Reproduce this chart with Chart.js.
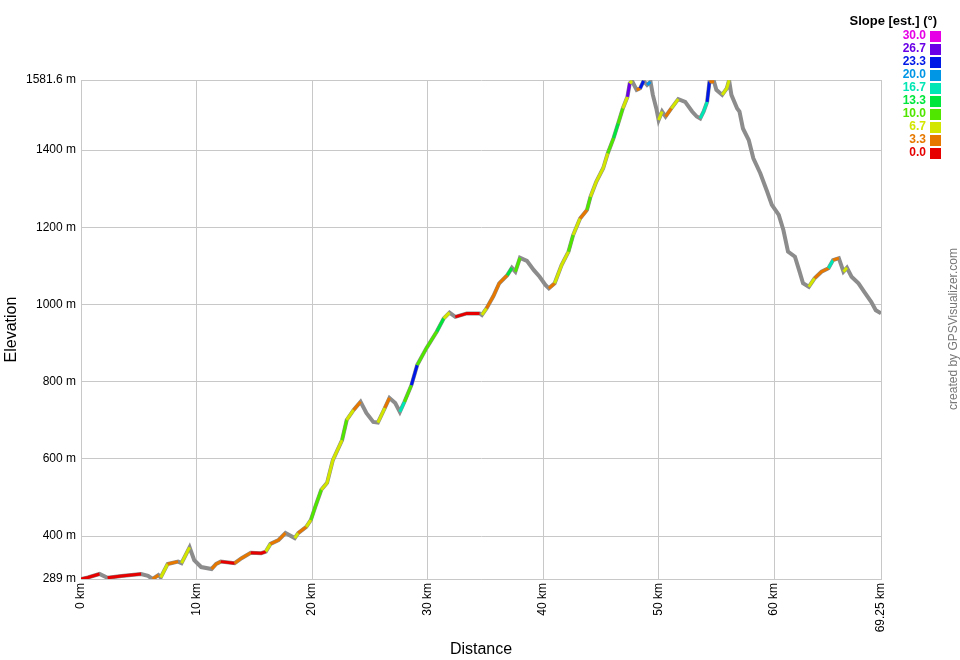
<!DOCTYPE html>
<html>
<head>
<meta charset="utf-8">
<script src="https://cdn.jsdelivr.net/npm/chart.js@4"></script>
<style>
  html, body { margin: 0; padding: 0; background: #fff; }
  #wrap { width: 960px; height: 660px; position: relative; }
</style>
</head>
<body>
<div id="wrap"><canvas id="perfil" width="960" height="660"></canvas></div>
<script>
const distancias = [0, 0.6, 1.6, 2.3, 3.5, 5.2, 5.8, 6.2, 6.7, 6.9, 7.5, 8.4, 8.7, 9.4, 9.8, 10.4, 11.3, 11.7, 12.1, 13.3,
  13.9, 14.7, 15.6, 16.0, 16.4, 17.1, 17.7, 18.5, 18.8, 19.5, 19.9, 20.3, 20.8, 21.3, 21.8, 22.6, 23.0, 23.6, 24.2, 24.7,
  25.3, 25.7, 26.3, 26.7, 27.2, 27.6, 28.0, 28.6, 29.1, 29.9, 30.8, 31.4, 31.9, 32.4, 33.4, 34.5, 34.7, 35.1, 35.7, 36.2,
  36.9, 37.3, 37.6, 38.0, 38.6, 39.2, 39.7, 40.2, 40.5, 41.0, 41.6, 42.2, 42.6, 43.2, 43.8, 44.1, 44.6, 45.2, 45.6, 46.1,
  46.5, 46.9, 47.3, 47.5, 47.7, 48.1, 48.4, 48.7, 49.0, 49.3, 49.5, 49.8, 50.0, 50.3, 50.6, 51.1, 51.7, 52.3, 52.9, 53.3,
  53.6, 53.9, 54.2, 54.4, 54.8, 55.0, 55.5, 55.9, 56.1, 56.3, 56.8, 57.0, 57.3, 57.8, 58.2, 58.8, 59.4, 59.8, 60.4, 60.8,
  61.2, 61.8, 62.2, 62.5, 63.0, 63.5, 64.1, 64.7, 65.1, 65.6, 66.0, 66.3, 66.7, 67.3, 67.8, 68.4, 68.8, 69.25];

const elevacoes = [289, 293, 302, 292, 297, 302, 297, 289, 299, 293, 328, 334, 330, 371, 338, 320, 315, 328, 334, 330,
  343, 357, 356, 360, 380, 390, 408, 395, 408, 424, 442, 478, 520, 538, 597, 649, 701, 727, 748, 719,
  696, 694, 732, 758, 745, 722, 748, 791, 843, 887, 930, 964, 979, 968, 977, 977, 973, 990, 1022, 1055,
  1076, 1095, 1085, 1121, 1113, 1089, 1072, 1051, 1042, 1055, 1102, 1137, 1180, 1223, 1245, 1279, 1318, 1353, 1392, 1431,
  1469, 1508, 1538, 1573, 1579, 1556, 1560, 1579, 1569, 1577, 1543, 1508, 1478, 1500, 1487, 1508, 1532, 1525, 1500, 1487,
  1482, 1500, 1525, 1577, 1577, 1556, 1543, 1560, 1581, 1543, 1508, 1500, 1456, 1426, 1379, 1340, 1292, 1258, 1232, 1193,
  1137, 1124, 1085, 1055, 1046, 1068, 1085, 1094, 1115, 1120, 1085, 1095, 1072, 1055, 1033, 1007, 985, 977];

// Inclinacao estimada (graus) do trecho que termina em cada ponto; -1 = descida (cinza)
const inclinacoes = [0, 1, 1, -1, 1, 1, -1, -1, 4, -1, 6, 2, -1, 7, -1, -1, -1, 2, 2, 1,
  2, 2, 1, 1, 8, 4, 4, -1, 5, 3, 6, 10, 9, 7, 7, 7, 9, 5, 3, -1,
  -1, -1, 7, 4, -1, -1, 15, 10, 24, 9, 11, 14, 5, -1, 1, 1, -1, 6, 4, 4,
  3, 12, -1, 10, -1, -1, -1, -1, -1, 3, 7, 5, 11, 8, 4, 11, 7, 6, 8, 9,
  12, 11, 6, 25, 8, -1, 3, 24, -1, 20, -1, -1, -1, 6, -1, 4, 5, -1, -1, -1,
  -1, 16, 18, 23, 3, -1, -1, 5, 8, -1, -1, -1, -1, -1, -1, -1, -1, -1, -1, -1,
  -1, -1, -1, -1, -1, 6, 4, 3, 15, 2, -1, 8, -1, -1, -1, -1, -1, -1];

// Legenda de inclinacao
const legendaValores = ['30.0', '26.7', '23.3', '20.0', '16.7', '13.3', '10.0', '6.7', '3.3', '0.0'];
const legendaCores = ['#e600e6', '#6a00e6', '#0018e6', '#0096e6', '#00e6b4', '#00e63c', '#50e600', '#d2e600', '#e67800', '#e60000'];

// Marcas dos eixos
const ticksY = [289, 400, 600, 800, 1000, 1200, 1400, 1581.6];
const ticksX = [0, 10, 20, 30, 40, 50, 60, 69.25];

const FONTE = '"Liberation Sans", Arial, sans-serif';

function corInclinacao(graus) {
    if (graus < 0) return 'rgba(0,0,0,0)';
    // faixa mais proxima da legenda (0, 3.3, 6.7 ...)
    let idx = Math.round(graus / 3.333);
    if (idx > 9) idx = 9;
    return legendaCores[9 - idx];
}

const pontos = distancias.map((d, i) => ({ x: d, y: elevacoes[i] }));

// Legenda e credito desenhados direto no canvas
const extrasPlugin = {
    id: 'extras',
    afterDraw(chart) {
        const ctx = chart.ctx;
        ctx.save();
        ctx.textBaseline = 'middle';
        ctx.textAlign = 'right';
        ctx.fillStyle = '#000';
        ctx.font = 'bold 13px ' + FONTE;
        ctx.fillText('Slope [est.] (°)', 937, 21);

        ctx.font = 'bold 12px ' + FONTE;
        legendaValores.forEach((txt, i) => {
            const y = 36 + i * 13;
            ctx.fillStyle = legendaCores[i];
            ctx.fillText(txt, 926, y);
            ctx.fillRect(930, y - 5, 11, 11);
        });

        // credito vertical
        ctx.translate(954, 329);
        ctx.rotate(-Math.PI / 2);
        ctx.textAlign = 'center';
        ctx.fillStyle = '#777';
        ctx.font = '12px ' + FONTE;
        ctx.fillText('created by GPSVisualizer.com', 0, 0);
        ctx.restore();
    }
};

const ctxPerfil = document.getElementById('perfil').getContext('2d');

new Chart(ctxPerfil, {
    type: 'line',
    data: {
        datasets: [
            {
                // linha colorida por inclinacao (por cima)
                data: pontos,
                borderWidth: 3,
                pointRadius: 0,
                tension: 0,
                borderColor: '#888',
                segment: {
                    borderColor: c => corInclinacao(inclinacoes[c.p1DataIndex])
                },
                order: 0
            },
            {
                // contorno cinza (por baixo)
                data: pontos,
                borderColor: '#8c8c8c',
                borderWidth: 4,
                pointRadius: 0,
                tension: 0,
                order: 1
            }
        ]
    },
    options: {
        responsive: false,
        animation: false,
        layout: { padding: { top: 80, right: 79, left: 0, bottom: 0 } },
        plugins: {
            legend: { display: false },
            tooltip: { enabled: false }
        },
        scales: {
            x: {
                type: 'linear',
                min: 0,
                max: 69.25,
                afterBuildTicks: s => { s.ticks = ticksX.map(v => ({ value: v })); },
                afterFit: s => { s.height = 81; },
                grid: { color: '#c8c8c8', drawTicks: false },
                border: { color: '#c8c8c8' },
                ticks: {
                    color: '#000',
                    font: { family: FONTE, size: 12 },
                    padding: 4,
                    minRotation: 90,
                    maxRotation: 90,
                    autoSkip: false,
                    callback: v => v + ' km'
                },
                title: {
                    display: true,
                    text: 'Distance',
                    color: '#000',
                    font: { family: FONTE, size: 16 },
                    padding: { top: 0, bottom: 1 }
                }
            },
            y: {
                min: 289,
                max: 1581.6,
                afterBuildTicks: s => { s.ticks = ticksY.map(v => ({ value: v })); },
                afterFit: s => { s.width = 81; },
                grid: { color: '#c8c8c8', drawTicks: false },
                border: { color: '#c8c8c8' },
                ticks: {
                    color: '#000',
                    font: { family: FONTE, size: 12 },
                    padding: 5,
                    autoSkip: false,
                    callback: v => v + ' m'
                },
                title: {
                    display: true,
                    text: 'Elevation',
                    color: '#000',
                    font: { family: FONTE, size: 16 },
                    padding: { top: 2, bottom: 0 }
                }
            }
        }
    },
    plugins: [extrasPlugin]
});
</script>
</body>
</html>
